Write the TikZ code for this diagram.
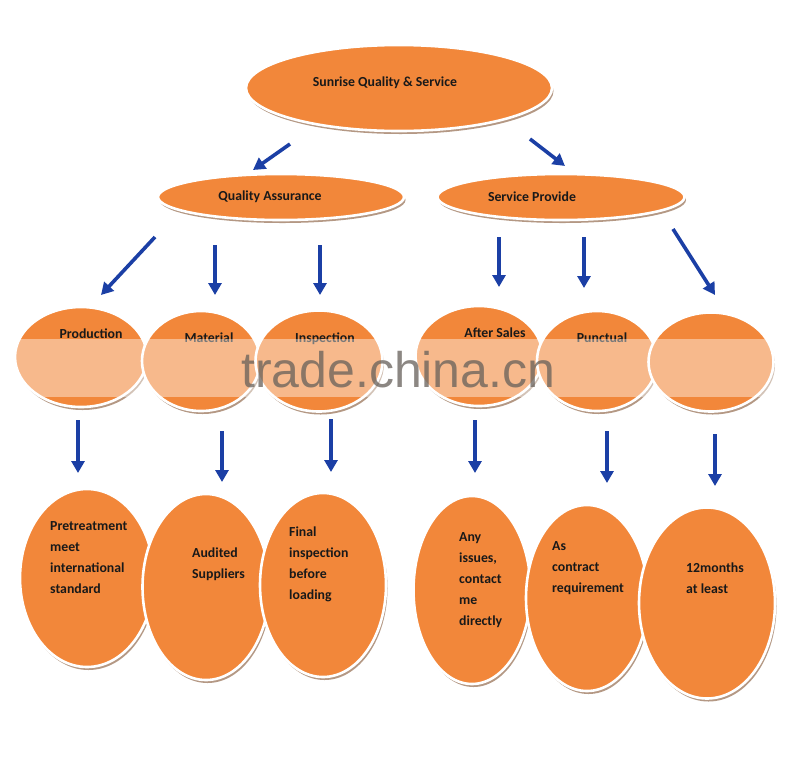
\documentclass[tikz,border=0pt]{standalone}
\usepackage{fontspec}
\setmainfont{Carlito}
\newfontfamily\wmfont{Liberation Sans}
\usetikzlibrary{shapes.geometric,shadows,arrows.meta}
\definecolor{boxorange}{HTML}{F2873A}
\definecolor{arrowblue}{HTML}{1B3FA5}
\definecolor{shadowtan}{HTML}{A8876F}
\definecolor{wmgray}{HTML}{66605A}
\begin{document}
\begin{tikzpicture}[x=1pt,y=-1pt,
  oval/.style={ellipse, draw=white, line width=2.6pt, fill=boxorange, inner sep=0pt,
    drop shadow={shadow xshift=1.5pt, shadow yshift=-3pt, fill=shadowtan, opacity=0.85}},
  lbl/.style={font=\bfseries\fontsize{13.8}{21}\selectfont, text=black!90, inner sep=0pt},
  blk/.style={lbl, align=left, anchor=north west},
  arr/.style={draw=arrowblue, line width=3.6pt, -{Triangle[length=12pt,width=13pt]}}]
\useasboundingbox (0,0) rectangle (800,772);
\fill[white] (0,0) rectangle (800,772);

% top level
\node[oval, minimum width=306pt, minimum height=86pt] (top) at (399,88) {};
\node[lbl] (topl) at (385,83) {Sunrise Quality \& Service};

% second level
\node[oval, minimum width=246pt, minimum height=46pt] (qa) at (281,197) {};
\node[lbl] (qal) at (270,197) {Quality Assurance};
\node[oval, minimum width=247pt, minimum height=46pt] (sp) at (561,197) {};
\node[lbl] (spl) at (532,197) {Service Provide};

% third level
\node[oval, minimum width=132pt, minimum height=100pt] (prod) at (81,357) {};
\node[oval, minimum width=118pt, minimum height=100pt] (mat) at (201,361) {};
\node[oval, minimum width=127pt, minimum height=101pt] (insp) at (319,361) {};
\node[oval, minimum width=127pt, minimum height=100pt] (after) at (479,356) {};
\node[oval, minimum width=120pt, minimum height=100pt] (punc) at (597,361) {};
\node[oval, minimum width=125pt, minimum height=99pt] (third) at (711,362) {};
\node[lbl, anchor=north] (prodl) at (91,329) {Production};
\node[lbl, anchor=north] (matl) at (209,333) {Material};
\node[lbl, anchor=north] (inspl) at (325,333) {Inspection};
\node[lbl, anchor=north] (afterl) at (495,328) {After Sales};
\node[lbl, anchor=north] (puncl) at (602,333) {Punctual};

% bottom level
\node[oval, minimum width=134pt, minimum height=178pt] (b1) at (87,578) {};
\node[oval, minimum width=127pt, minimum height=186pt] (b2) at (206,587) {};
\node[oval, minimum width=126pt, minimum height=184pt] (b3) at (323,585) {};
\node[oval, minimum width=117pt, minimum height=188pt] (b4) at (472,590) {};
\node[oval, minimum width=122pt, minimum height=186pt] (b5) at (587,598) {};
\node[oval, minimum width=136pt, minimum height=191pt] (b6) at (707,603) {};
\node[blk] (b1l) at (50,521) {Pretreatment\\meet\\international\\standard};
\node[blk] (b2l) at (192,548) {Audited\\Suppliers};
\node[blk] (b3l) at (289,527) {Final\\inspection\\before\\loading};
\node[blk] (b4l) at (459,532) {Any\\issues,\\contact\\me\\directly};
\node[blk] (b5l) at (552,541) {As\\contract\\requirement};
\node[blk] (b6l) at (686,563) {12months\\at least};

% arrow end points
\coordinate (a1s) at (290,144); \coordinate (a1e) at (253,170);
\coordinate (a2s) at (530,139); \coordinate (a2e) at (565,166);
\coordinate (a3s) at (155,237); \coordinate (a3e) at (101,295);
\coordinate (a4s) at (215,245); \coordinate (a4e) at (215,295);
\coordinate (a5s) at (320,245); \coordinate (a5e) at (320,295);
\coordinate (a6s) at (499,237); \coordinate (a6e) at (499,287);
\coordinate (a7s) at (584,237); \coordinate (a7e) at (584,288);
\coordinate (a8s) at (673,229); \coordinate (a8e) at (715,295);
\coordinate (c1s) at (78,420); \coordinate (c1e) at (78,473);
\coordinate (c2s) at (222,431); \coordinate (c2e) at (222,482);
\coordinate (c3s) at (331,419); \coordinate (c3e) at (331,472);
\coordinate (c4s) at (475,420); \coordinate (c4e) at (475,473);
\coordinate (c5s) at (607,431); \coordinate (c5e) at (607,483);
\coordinate (c6s) at (715,434); \coordinate (c6e) at (715,486);

\foreach \s/\e in {a1s/a1e,a2s/a2e,a3s/a3e,a4s/a4e,a5s/a5e,a6s/a6e,a7s/a7e,a8s/a8e,
                   c1s/c1e,c2s/c2e,c3s/c3e,c4s/c4e,c5s/c5e,c6s/c6e}
  \draw[arr] (\s) -- (\e);

% watermark band
\fill[white, opacity=0.42] (12,339) rectangle (788,397);
\node[font=\wmfont\fontsize{50}{50}\selectfont, text=wmgray, text opacity=0.75,
      anchor=base west, inner sep=0pt] (wm) at (241,387) {trade.china.cn};
\end{tikzpicture}
\end{document}
